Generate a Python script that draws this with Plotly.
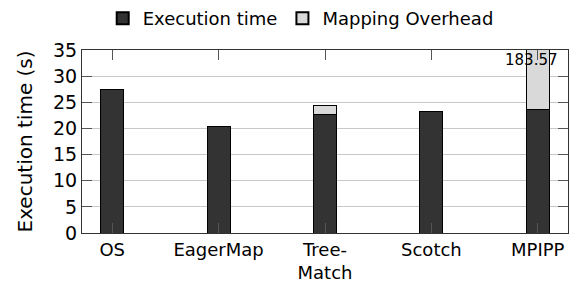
import plotly.graph_objects as go

categories = ["OS", "EagerMap", "Tree-<br>Match", "Scotch", "MPIPP"]
exec_time = [27.5, 20.3, 22.7, 23.2, 23.57]
overhead = [0.0, 0.0, 1.6, 0.0, 160.0]
total_label = "183.57"
y_title = "Execution time (s)"

FONT = "DejaVu Sans"
xs = list(range(len(categories)))

fig = go.Figure()
fig.add_trace(go.Bar(x=xs, y=exec_time, name="Execution time",
                     marker=dict(color="#333333", line=dict(color="black", width=1)),
                     width=0.216))
fig.add_trace(go.Bar(x=xs, y=overhead, name="Mapping Overhead",
                     marker=dict(color="#d9d9d9", line=dict(color="black", width=1)),
                     width=0.216))

fig.add_annotation(x=4, y=35, text=total_label, showarrow=False, xanchor="center",
                   yanchor="top", xshift=-6, yshift=1,
                   font=dict(family=FONT, size=15, color="black"))
fig.add_annotation(x=0, y=0.5, xref="paper", yref="paper", text=y_title,
                   textangle=-90, showarrow=False, xanchor="center", yanchor="middle",
                   xshift=-58, font=dict(family=FONT, size=20, color="black"))

fig.update_layout(
    barmode="stack",
    width=576, height=293,
    margin=dict(l=82, r=8, t=50, b=60, autoexpand=False),
    paper_bgcolor="white", plot_bgcolor="white",
    font=dict(family=FONT, size=18, color="black"),
    showlegend=True,
    legend=dict(orientation="h", x=0.45, xanchor="center", y=1.0, yanchor="top",
                yref="container", font=dict(family=FONT, size=18),
                itemsizing="constant", bgcolor="rgba(0,0,0,0)", traceorder="normal",
                itemwidth=30),
    xaxis=dict(tickmode="array", tickvals=xs, ticktext=categories,
               range=[-0.284, 4.284], showgrid=False, ticks="inside", ticklen=10,
               tickcolor="#555555", showline=True, linecolor="#333333", linewidth=1,
               mirror="ticks", zeroline=False, tickfont=dict(size=18), automargin=False),
    yaxis=dict(range=[0, 35], dtick=5, showgrid=True, gridcolor="#c8c8c8",
               ticks="inside", ticklen=10, tickcolor="#555555", showline=True,
               linecolor="#333333", linewidth=1, mirror="ticks", zeroline=False,
               tickfont=dict(size=19), automargin=False),
)

fig.write_html("out.html", config={"displayModeBar": False},
               post_script="document.body.style.margin='0';document.body.style.padding='0';")
